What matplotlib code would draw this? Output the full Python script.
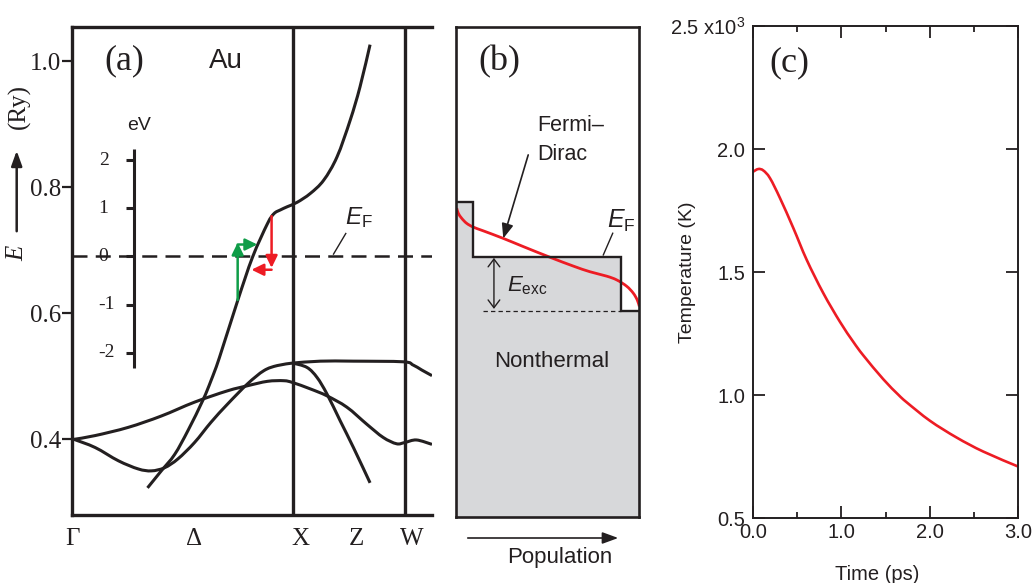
import matplotlib
matplotlib.use("Agg")
import matplotlib.pyplot as plt
from matplotlib.path import Path
from matplotlib.patches import PathPatch, FancyArrowPatch

plt.rcParams['font.family'] = ['Liberation Sans', 'DejaVu Sans']
plt.rcParams['mathtext.fontset'] = 'custom'
plt.rcParams['mathtext.rm'] = 'Liberation Sans'
plt.rcParams['mathtext.it'] = 'Liberation Sans:italic'
plt.rcParams['mathtext.bf'] = 'Liberation Sans:bold'

# ---------------- data: (a) Au band structure (k: Gamma=0, X=1; E in Ry) ----------------
band1_k = [0.336, 0.399, 0.460, 0.521, 0.589, 0.626, 0.664, 0.748, 0.816, 0.884, 0.914, 0.944,
           0.975, 1.020, 1.080, 1.141, 1.202, 1.262, 1.307, 1.353]
band1_E = [0.323, 0.350, 0.376, 0.414, 0.462, 0.493, 0.529, 0.620, 0.689, 0.742, 0.758, 0.764,
           0.769, 0.776, 0.790, 0.811, 0.848, 0.906, 0.959, 1.026]
band2_k = [0.0, 0.097, 0.203, 0.294, 0.354, 0.414, 0.475, 0.551, 0.626, 0.702, 0.793, 0.868, 0.929, 1.0]
band2_E = [0.400, 0.387, 0.366, 0.353, 0.350, 0.355, 0.369, 0.395, 0.427, 0.456, 0.488, 0.509, 0.517, 0.521]
band3_k = [1.0, 1.126, 1.277, 1.504, 1.549, 1.589, 1.636]
band3_E = [0.521, 0.524, 0.524, 0.523, 0.518, 0.510, 0.501]
band4_k = [1.0, 1.065, 1.111, 1.156, 1.217, 1.277, 1.353]
band4_E = [0.521, 0.514, 0.498, 0.472, 0.429, 0.387, 0.331]
band5_k = [0.0, 0.097, 0.248, 0.399, 0.551, 0.702, 0.793, 0.884, 0.959, 1.0, 1.080, 1.156,
           1.247, 1.338, 1.413, 1.474, 1.512, 1.565, 1.636]
band5_E = [0.400, 0.406, 0.419, 0.437, 0.459, 0.477, 0.485, 0.492, 0.493, 0.490, 0.480, 0.469,
           0.451, 0.424, 0.403, 0.393, 0.395, 0.399, 0.392]
E_fermi = 0.690
k_X, k_W = 1.0, 1.512
kpoint_pos = [-0.009, 0.547, 1.035, 1.289, 1.545]
kpoint_labels = ['Γ', 'Δ', 'X', 'Z', 'W']
ry_ticks = [0.4, 0.6, 0.8, 1.0]
ev_ticks = [2, 1, 0, -1, -2]
ry_per_ev = 0.0765
ev_range = (-2.31, 2.22)
# transitions (k, E) start -> end
green_up = [(0.748, 0.621), (0.748, 0.712)]
green_right = [(0.748, 0.709), (0.838, 0.709)]
red_down = [(0.903, 0.754), (0.903, 0.672)]
red_left = [(0.903, 0.669), (0.811, 0.669)]

# ---------------- data: (b) distributions (population 0..1, E in Ry) ----------------
nt_pop = [0.0, 0.0944, 0.0944, 0.9018, 0.9018, 1.0]
nt_E = [0.7765, 0.7765, 0.689, 0.689, 0.6027, 0.6027]
fd_pop = [0.004, 0.0125, 0.031, 0.058, 0.094, 0.149, 0.258, 0.367, 0.513, 0.640, 0.731, 0.822,
          0.877, 0.931, 0.967, 0.989, 1.0]
fd_E = [0.766, 0.758, 0.750, 0.742, 0.736, 0.730, 0.718, 0.705, 0.688, 0.674, 0.665, 0.658,
        0.652, 0.642, 0.631, 0.620, 0.610]

# ---------------- data: (c) electron temperature ----------------
time_ps = [0.0, 0.063, 0.12, 0.195, 0.308, 0.459, 0.61, 0.797, 0.986, 1.136, 1.249, 1.475,
           1.645, 1.740, 2.003, 2.304, 2.605, 3.0]
temp_1e3K = [1.907, 1.919, 1.913, 1.882, 1.801, 1.679, 1.550, 1.415, 1.298, 1.217, 1.162, 1.065,
             1.002, 0.971, 0.896, 0.828, 0.771, 0.710]
c_xticks = [0, 1, 2, 3]
c_xlabels = ['0.0', '1.0', '2.0', '3.0']
c_yticks = [0.5, 1.0, 1.5, 2.0, 2.5]
c_ylabels = ['0.5', '1.0', '1.5', '2.0', r'2.5 x10$^{3}$']

# ---------------- figure ----------------
W, H = 1036, 583
fig = plt.figure(figsize=(W / 100, H / 100), dpi=100)
BLK = '#231f20'
RED = '#ed1c24'
GRN = '#0f9d48'
SERIF = 'Liberation Serif'


def frac(l, t, r, b):
    return [l / W, 1 - b / H, (r - l) / W, (b - t) / H]


def fx(x):
    return x / W


def fy(y):
    return 1 - y / H


def smooth_line(ax, xs, ys, **kw):
    """Draw a smooth curve through the given points with cubic Bezier segments."""
    pts = list(zip(xs, ys))
    n = len(pts)
    verts = [pts[0]]
    codes = [Path.MOVETO]
    for i in range(n - 1):
        p0 = pts[i - 1] if i > 0 else pts[i]
        p1, p2 = pts[i], pts[i + 1]
        p3 = pts[i + 2] if i + 2 < n else pts[i + 1]
        c1 = (p1[0] + (p2[0] - p0[0]) / 6, p1[1] + (p2[1] - p0[1]) / 6)
        c2 = (p2[0] - (p3[0] - p1[0]) / 6, p2[1] - (p3[1] - p1[1]) / 6)
        verts += [c1, c2, p2]
        codes += [Path.CURVE4] * 3
    patch = PathPatch(Path(verts, codes), fill=False, capstyle='butt', joinstyle='round', **kw)
    ax.add_patch(patch)
    return patch


# ===== (a) =====
axa = fig.add_axes(frac(72, 27, 432, 515))
axa.set_xlim(0, 1.636)
axa.set_ylim(0.280, 1.054)
for s in ['top', 'bottom', 'left']:
    axa.spines[s].set_linewidth(2.4)
    axa.spines[s].set_color(BLK)
axa.spines['right'].set_visible(False)
axa.axvline(k_X, color=BLK, lw=2.4)
axa.axvline(k_W, color=BLK, lw=2.4)
for kk, ee in [(band1_k, band1_E), (band2_k, band2_E), (band3_k, band3_E),
               (band4_k, band4_E), (band5_k, band5_E)]:
    smooth_line(axa, kk, ee, edgecolor=BLK, lw=2.2)
axa.axhline(E_fermi, color=BLK, lw=1.8, dashes=[6, 3.3])
axa.set_yticks(ry_ticks, [f'{v:.1f}' for v in ry_ticks], fontfamily=SERIF, fontsize=18)
axa.tick_params(axis='y', direction='out', length=7, width=1.6, pad=0.5, colors=BLK)
axa.set_xticks(kpoint_pos, kpoint_labels, fontfamily=SERIF, fontsize=18)
axa.tick_params(axis='x', length=0, pad=9.5, colors=BLK)

# inset energy axis in eV
k_ev = 0.2755
axa.plot([k_ev, k_ev], [E_fermi + ev_range[0] * ry_per_ev, E_fermi + ev_range[1] * ry_per_ev],
         color=BLK, lw=2.2, solid_capstyle='butt')
for v in ev_ticks:
    yv = E_fermi + v * ry_per_ev
    axa.plot([k_ev - 0.0395, k_ev], [yv, yv], color=BLK, lw=2.2, solid_capstyle='butt')
    axa.text(0.113, yv, str(v), ha='left', va='center', fontsize=14, fontfamily=SERIF, color=BLK)
axa.text(0.241, 0.897, 'eV', ha='left', va='center', fontsize=14, color=BLK)

for (p0, p1), col in [(green_up, GRN), (green_right, GRN), (red_down, RED), (red_left, RED)]:
    axa.annotate('', xy=p1, xytext=p0,
                 arrowprops=dict(arrowstyle='-|>,head_length=0.45,head_width=0.22', color=col,
                                 lw=1.8, mutation_scale=16, shrinkA=0, shrinkB=0))

axa.text(0.2315, 1.0, '(a)', ha='center', va='center', fontsize=26, fontfamily=SERIF, color=BLK)
axa.text(0.695, 1.0, 'Au', ha='center', va='center', fontsize=20, color=BLK)
axa.text(1.239, 0.741, r'$E_{\mathrm{F}}$', ha='left', va='baseline', fontsize=17.5, color=BLK)
axa.plot([1.242, 1.186], [0.7265, 0.6938], color=BLK, lw=1.0)

# y-axis label: E -> (Ry)
fig.text(fx(19), fy(106), '(Ry)', rotation=90, ha='center', va='center', fontsize=18,
         fontfamily=SERIF, color=BLK)
fig.text(fx(17), fy(253), 'E', rotation=90, ha='center', va='center', fontsize=18,
         fontfamily=SERIF, fontstyle='italic', color=BLK)
fig.add_artist(FancyArrowPatch(
    (fx(16.7), fy(234)), (fx(16.7), fy(148)), transform=fig.transFigure,
    arrowstyle='-|>,head_length=0.5,head_width=0.18', mutation_scale=18, lw=1.8, color=BLK))

# ===== (b) =====
axb = fig.add_axes(frac(456, 27, 639.3, 517))
axb.set_xlim(0, 1)
axb.set_ylim(0.2752, 1.054)
axb.set_xticks([])
axb.set_yticks([])
for s in axb.spines.values():
    s.set_linewidth(1.9)
    s.set_color(BLK)
axb.fill_between(nt_pop, nt_E, 0.2752, color='#d7d8da', lw=0)
axb.plot(nt_pop, nt_E, color=BLK, lw=1.7, solid_joinstyle='miter')
axb.plot([0.149, nt_pop[3]], [nt_E[-1], nt_E[-1]], color=BLK, lw=0.9, dashes=[3.5, 2.5])
axb.annotate('', xy=(0.207, 0.687), xytext=(0.207, 0.606),
             arrowprops=dict(arrowstyle='<->,head_length=0.4,head_width=0.3', lw=1.0, color=BLK,
                             mutation_scale=14, shrinkA=0, shrinkB=0))
smooth_line(axb, fd_pop, fd_E, edgecolor=RED, lw=2.0)
axb.annotate('', xy=(0.258, 0.718), xytext=(0.394, 0.8507),
             arrowprops=dict(arrowstyle='-|>,head_length=0.55,head_width=0.22', lw=1.2, color=BLK,
                             mutation_scale=16, shrinkA=0, shrinkB=0))
axb.text(0.442, 0.8968, 'Fermi–', ha='left', va='center', fontsize=15.5, color=BLK)
axb.text(0.442, 0.852, 'Dirac', ha='left', va='center', fontsize=15.5, color=BLK)
axb.text(0.822, 0.7347, r'$E_{\mathrm{F}}$', ha='left', va='baseline', fontsize=18, color=BLK)
axb.plot([0.855, 0.8036], [0.7262, 0.6917], color=BLK, lw=1.0)
axb.text(0.2766, 0.6334, r'$E_{\mathrm{exc}}$', ha='left', va='baseline', fontsize=16, color=BLK)
axb.text(0.521, 0.5216, 'Nonthermal', ha='center', va='center', fontsize=16, color=BLK)
axb.text(0.237, 0.9986, '(b)', ha='center', va='center', fontsize=26, fontfamily=SERIF, color=BLK)

fig.add_artist(FancyArrowPatch(
    (fx(465), fy(538)), (fx(621), fy(538)), transform=fig.transFigure,
    arrowstyle='-|>,head_length=0.6,head_width=0.22', mutation_scale=16, lw=1.2, color=BLK))
fig.text(fx(560), fy(558), 'Population', ha='center', va='center', fontsize=16, color=BLK)

# ===== (c) =====
axc = fig.add_axes(frac(752.7, 26, 1018.3, 518.3))
smooth_line(axc, time_ps, temp_1e3K, edgecolor=RED, lw=1.9)
axc.set_xlim(0, 3)
axc.set_ylim(0.5, 2.5)
for s in axc.spines.values():
    s.set_linewidth(1.4)
    s.set_color(BLK)
axc.set_xticks(c_xticks, c_xlabels)
axc.set_xticks([0.5, 1.5, 2.5], minor=True)
axc.set_yticks(c_yticks, c_ylabels)
axc.tick_params(which='both', direction='in', top=True, right=True, width=1.3, color=BLK,
                labelcolor=BLK, labelsize=14.5)
axc.tick_params(which='major', length=8.6)
axc.tick_params(which='minor', length=4.2)
axc.tick_params(axis='x', pad=3.5)
axc.tick_params(axis='y', pad=5.5)
axc.text(0.41, 2.351, '(c)', ha='center', va='center', fontsize=26, fontfamily=SERIF, color=BLK)
fig.text(fx(688), fy(272), 'Temperature (K)', rotation=90, ha='center', va='center',
         fontsize=14, color=BLK)
fig.text(fx(877), fy(580), 'Time (ps)', ha='center', va='baseline', fontsize=14.5, color=BLK)

fig.savefig('out.png', dpi=100)
